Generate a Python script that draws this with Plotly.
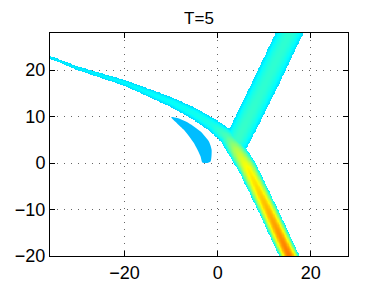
import numpy as np
import plotly.graph_objects as go

# ---- data (data units) ----
# left branch continuing into lower-right branch (centerline)
main_x = [-38, -30, -20, -10, -5, -1, 2, 4, 6.5, 11, 15.5, 17]
main_y = [23.6, 20.4, 17.3, 13.2, 10.7, 8.2, 5.8, 3.0, -1.0, -10.3, -20.0, -23.0]
main_width = [0.45, 0.8, 1.2, 2.0, 2.4, 2.8, 3.3, 3.9, 4.0, 4.0, 4.0, 4.0]
main_peak = [0.36, 0.36, 0.37, 0.38, 0.39, 0.40, 0.45, 0.55, 0.63, 0.70, 0.76, 0.77]
main_edge = [0.33, 0.33, 0.33, 0.33, 0.33, 0.33, 0.33, 0.34, 0.34, 0.34, 0.34, 0.34]

# upper-right branch (centerline)
upper_x = [4.4, 10.0, 15.5, 17.0]
upper_y = [5.2, 16.5, 28.0, 31.0]
upper_width = [5.2, 5.4, 5.4, 5.4]
upper_peak = [0.43, 0.42, 0.42, 0.42]
upper_edge = [0.34, 0.34, 0.34, 0.34]

# small fin-shaped region
blob_x = [-9.96, -8.67, -6.17, -3.66, -1.87, -1.29, -1.51, -2.37, -3.29, -3.66, -5.10, -7.25, -9.96]
blob_y = [9.89, 9.68, 8.60, 6.80, 4.65, 2.86, 0.34, 0.0, 0.13, 1.42, 4.30, 7.16, 9.89]
blob_value = 0.31

x_ticks = [-20, 0, 20]
y_ticks = [-20, -10, 0, 10, 20]

jet = [[0.0, "rgb(0,0,128)"], [0.125, "rgb(0,0,255)"], [0.375, "rgb(0,255,255)"],
       [0.625, "rgb(255,255,0)"], [0.875, "rgb(255,0,0)"], [1.0, "rgb(128,0,0)"]]

gx = np.arange(-36.0, 28.001, 0.12)
gy = np.arange(-20.0, 28.001, 0.12)
X, Y = np.meshgrid(gx, gy)


def branch_field(px, py, width, peak, edge):
    px, py = np.asarray(px, float), np.asarray(py, float)
    width, peak, edge = map(lambda a: np.asarray(a, float), (width, peak, edge))
    best_d = np.full(X.shape, np.inf)
    best_w = np.zeros(X.shape)
    best_p = np.zeros(X.shape)
    best_e = np.zeros(X.shape)
    for i in range(len(px) - 1):
        dx, dy = px[i + 1] - px[i], py[i + 1] - py[i]
        t = ((X - px[i]) * dx + (Y - py[i]) * dy) / (dx * dx + dy * dy)
        t = np.clip(t, 0, 1)
        d = np.hypot(X - (px[i] + t * dx), Y - (py[i] + t * dy))
        m = d < best_d
        best_d[m] = d[m]
        best_w[m] = (width[i] + t * (width[i + 1] - width[i]))[m]
        best_p[m] = (peak[i] + t * (peak[i + 1] - peak[i]))[m]
        best_e[m] = (edge[i] + t * (edge[i + 1] - edge[i]))[m]
    hw = best_w / 2
    r = best_d / hw
    z = best_e + (best_p - best_e) * (1 - r ** 2)
    z[r > 1] = np.nan
    return z


z_main = branch_field(main_x, main_y, main_width, main_peak, main_edge)
z_up = branch_field(upper_x, upper_y, upper_width, upper_peak, upper_edge)
Z = np.fmax(z_main, z_up).astype(np.float32)

blob_rgb = "rgb(0,%d,255)" % round(255 * (blob_value - 0.125) / 0.25)

fig = go.Figure()
fig.add_trace(go.Heatmap(x=gx, y=gy, z=Z, colorscale=jet, zmin=0, zmax=1,
                         showscale=False, hoverinfo="skip"))
fig.add_trace(go.Scatter(x=blob_x, y=blob_y, mode="lines", fill="toself",
                         line=dict(width=0, shape="spline", smoothing=0.6),
                         fillcolor=blob_rgb, hoverinfo="skip", showlegend=False))

axis_common = dict(showline=True, linecolor="black", linewidth=1, mirror="ticks",
                   ticks="inside", ticklen=5, tickcolor="black", showgrid=True,
                   gridcolor="#666666", gridwidth=1, griddash="1px,6px", zeroline=False,
                   automargin=False,
                   tickfont=dict(family="Liberation Sans, Arial, sans-serif", size=18, color="black"))

fig.update_xaxes(range=[-36, 28], tickvals=x_ticks, **axis_common)
fig.update_yaxes(range=[-20, 28], tickvals=y_ticks, **axis_common)

# the page places the figure 8px in from the top-left corner
fig.update_layout(
    width=376, height=280,
    margin=dict(l=42, r=36, t=25, b=32, autoexpand=False),
    paper_bgcolor="white", plot_bgcolor="white",
    showlegend=False,
    title=dict(text="T=5", xref="paper", x=0.5, xanchor="center",
               yref="container", y=1 - 10 / 280, yanchor="middle",
               font=dict(family="Liberation Sans, Arial, sans-serif", size=17, color="black")),
)

fig.write_html("out.html")
